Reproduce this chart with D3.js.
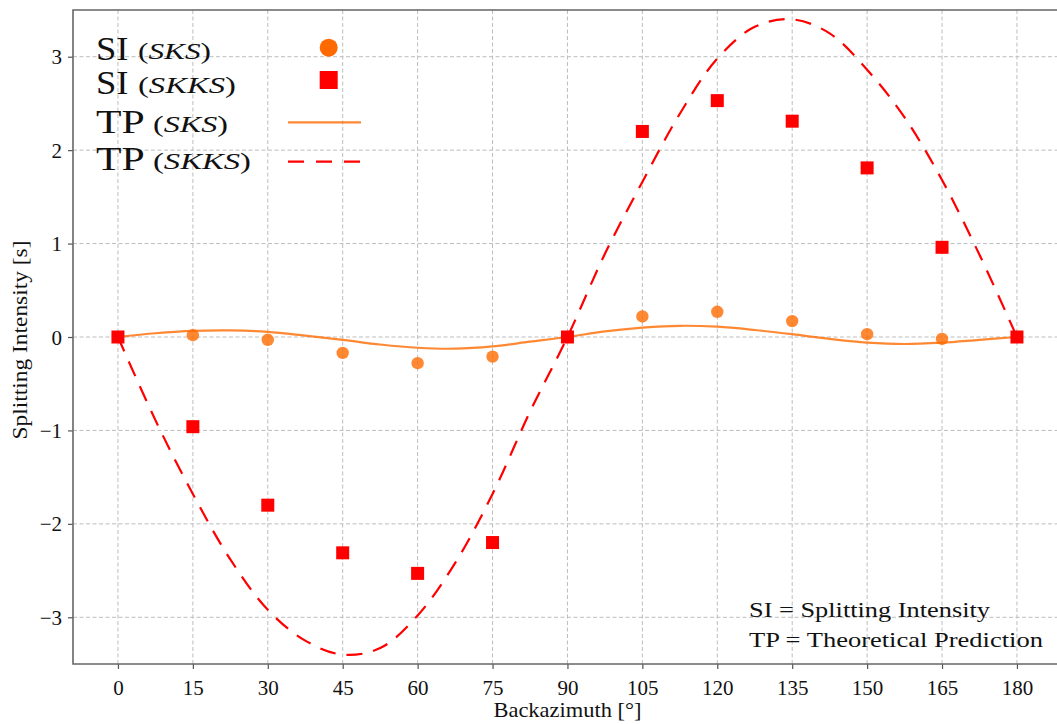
<!DOCTYPE html>
<html>
<head>
<meta charset="utf-8">
<script src="https://cdn.jsdelivr.net/npm/d3@7"></script>
<style>
  html, body { margin: 0; padding: 0; background: #fff; }
  svg { display: block; }
  svg text { font-family: "Liberation Serif", "DejaVu Serif", serif; fill: #111; }
</style>
</head>
<body>
<svg id="chart" width="1057" height="724"></svg>
<script>
// ---- data ----
const backazimuth = [0, 15, 30, 45, 60, 75, 90, 105, 120, 135, 150, 165, 180];
const siSKS  = [0, 0.02, -0.03, -0.17, -0.28, -0.21, 0, 0.22, 0.27, 0.17, 0.03, -0.02, 0];
const siSKKS = [0, -0.96, -1.80, -2.31, -2.53, -2.20, 0, 2.20, 2.53, 2.31, 1.81, 0.96, 0];

const tpAz = [0, 7.5, 15, 22.5, 30, 37.5, 45, 52.5, 60, 67.5, 75, 82.5, 90,
              97.5, 105, 112.5, 120, 127.5, 135, 142.5, 150, 157.5, 165, 172.5, 180];
const tpSKS  = [0, 0.04, 0.065, 0.07, 0.055, 0.015, -0.03, -0.08, -0.115, -0.125, -0.10, -0.05, 0,
                0.06, 0.10, 0.12, 0.11, 0.075, 0.03, -0.02, -0.06, -0.075, -0.06, -0.03, 0];
const tpSKKS = [0, -0.89, -1.68, -2.38, -2.92, -3.25, -3.40, -3.33, -2.98, -2.42, -1.68, -0.80, 0,
                0.89, 1.66, 2.39, 2.98, 3.32, 3.40, 3.25, 2.86, 2.35, 1.68, 0.88, 0];

const xTicks = [0, 15, 30, 45, 60, 75, 90, 105, 120, 135, 150, 165, 180];
const yTicks = [-3, -2, -1, 0, 1, 2, 3];

// ---- layout ----
const FONT = '"Liberation Serif", "DejaVu Serif", serif';
const svg = d3.select("#chart");
const L = 73, T = 10, B = 664;
const x = d3.scaleLinear().domain([-9, 189]).range([L, L + 198 * (899 / 180)]);
const y = d3.scaleLinear().domain([-3.5, 3.5]).range([B, T]);
const R = 1057;

const orange = "#ff6a00";
const red = "#ff0000";

// grid
const grid = svg.append("g").attr("stroke", "#bdbdbd").attr("stroke-width", 1).attr("stroke-dasharray", "4,2.5");
grid.selectAll("line.v").data(xTicks).join("line")
  .attr("x1", d => x(d)).attr("x2", d => x(d)).attr("y1", T).attr("y2", B);
grid.selectAll("line.h").data(yTicks).join("line")
  .attr("x1", L).attr("x2", R).attr("y1", d => y(d)).attr("y2", d => y(d));

// axes
const fmtNum = d => (d < 0 ? "\u2212" + Math.abs(d) : String(d));
const xAxis = svg.append("g").attr("transform", `translate(0,${B})`)
  .call(d3.axisBottom(x).tickValues(xTicks).tickSize(5).tickPadding(6).tickFormat(fmtNum));
const yAxis = svg.append("g").attr("transform", `translate(${L},0)`)
  .call(d3.axisLeft(y).tickValues(yTicks).tickSize(5).tickPadding(6).tickFormat(fmtNum));
[xAxis, yAxis].forEach(a => {
  a.attr("font-family", FONT).attr("font-size", 21);
  a.select(".domain").remove();
  a.selectAll(".tick line").attr("stroke", "#555").attr("stroke-width", 1.2);
  a.selectAll(".tick text").style("font-family", FONT).style("font-size", "21px").attr("fill", "#111");
});
xAxis.selectAll(".tick text").attr("dy", "0.95em");
yAxis.selectAll(".tick text").attr("dy", "0.34em");

// frame (right side cut off)
svg.append("path")
  .attr("d", `M${R},${T}H${L}V${B}H${R}`)
  .attr("fill", "none").attr("stroke", "#666").attr("stroke-width", 1.6);

// axis labels
svg.append("text").attr("x", x(90)).attr("y", 717).attr("text-anchor", "middle")
  .attr("textLength", 148).attr("lengthAdjust", "spacingAndGlyphs")
  .style("font-family", FONT).style("font-size", "21px").text("Backazimuth [\u00b0]");
svg.append("text").attr("transform", "translate(27,340) rotate(-90)").attr("text-anchor", "middle")
  .attr("textLength", 199).attr("lengthAdjust", "spacingAndGlyphs")
  .style("font-family", FONT).style("font-size", "20px").text("Splitting Intensity [s]");

// clip
svg.append("clipPath").attr("id", "clip").append("rect")
  .attr("x", L).attr("y", T).attr("width", R - L).attr("height", B - T);
const plot = svg.append("g").attr("clip-path", "url(#clip)");

const line = d3.line().curve(d3.curveCatmullRom.alpha(0.5));

// TP SKS solid
plot.append("path")
  .attr("d", line(tpAz.map((a, i) => [x(a), y(tpSKS[i])])))
  .attr("fill", "none").attr("stroke", orange).attr("stroke-opacity", 0.8).attr("stroke-width", 2.2);

// TP SKKS dashed
plot.append("path")
  .attr("d", line(tpAz.map((a, i) => [x(a), y(tpSKKS[i])])))
  .attr("fill", "none").attr("stroke", red).attr("stroke-width", 2.2)
  .attr("stroke-dasharray", "16,11");

// SI SKS circles
plot.selectAll("circle.sks").data(backazimuth).join("circle")
  .attr("cx", d => x(d)).attr("cy", (d, i) => y(siSKS[i])).attr("r", 6.2)
  .attr("fill", orange).attr("fill-opacity", 0.8);

// SI SKKS squares
const sq = 13;
plot.selectAll("rect.skks").data(backazimuth).join("rect")
  .attr("x", d => x(d) - sq / 2).attr("y", (d, i) => y(siSKKS[i]) - sq / 2)
  .attr("width", sq).attr("height", sq).attr("fill", red);

// legend
const lg = svg.append("g");
const rows = [
  { big: "SI", small: "(SKS)", bigEnd: 128.5, smallX: 138, smallLen: 73, base: 60 },
  { big: "SI", small: "(SKKS)", bigEnd: 128.5, smallX: 138, smallLen: 98, base: 94 },
  { big: "TP", small: "(SKS)", bigEnd: 144.7, smallX: 153, smallLen: 75, base: 133 },
  { big: "TP", small: "(SKKS)", bigEnd: 144.7, smallX: 153, smallLen: 98, base: 170 }
];
rows.forEach(r => {
  lg.append("text").attr("x", 96).attr("y", r.base)
    .attr("textLength", r.bigEnd - 96).attr("lengthAdjust", "spacingAndGlyphs")
    .style("font-family", FONT).style("font-size", "33px").text(r.big);
  const t = lg.append("text").attr("x", r.smallX).attr("y", r.base - 1)
    .attr("textLength", r.smallLen).attr("lengthAdjust", "spacingAndGlyphs")
    .style("font-family", FONT).style("font-size", "24px");
  t.append("tspan").text("(");
  t.append("tspan").style("font-style", "italic").text(r.small.slice(1, -1));
  t.append("tspan").text(")");
});
lg.append("circle").attr("cx", 328.7).attr("cy", 47.7).attr("r", 9).attr("fill", orange);
lg.append("rect").attr("x", 328.7 - 9).attr("y", 80 - 9).attr("width", 18).attr("height", 18).attr("fill", red);
lg.append("line").attr("x1", 288).attr("x2", 361).attr("y1", 122.3).attr("y2", 122.3)
  .attr("stroke", orange).attr("stroke-opacity", 0.8).attr("stroke-width", 2.2);
lg.append("line").attr("x1", 288).attr("x2", 361).attr("y1", 161.7).attr("y2", 161.7)
  .attr("stroke", red).attr("stroke-width", 2.2).attr("stroke-dasharray", "16,12");

// annotation
svg.append("text").attr("x", 749).attr("y", 616.5)
  .attr("textLength", 241).attr("lengthAdjust", "spacingAndGlyphs")
  .style("font-family", FONT).style("font-size", "22px").text("SI = Splitting Intensity");
svg.append("text").attr("x", 749).attr("y", 646.5)
  .attr("textLength", 294).attr("lengthAdjust", "spacingAndGlyphs")
  .style("font-family", FONT).style("font-size", "22px").text("TP = Theoretical Prediction");
</script>
</body>
</html>
